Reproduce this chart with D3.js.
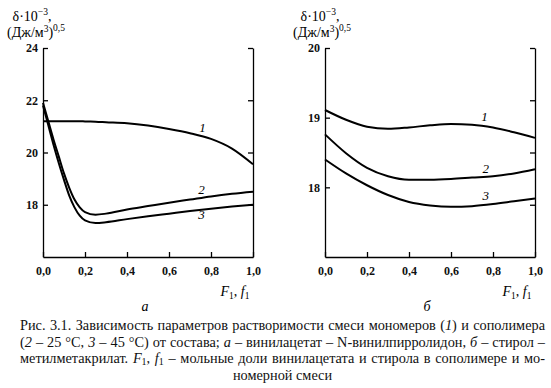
<!DOCTYPE html>
<html>
<head>
<meta charset="utf-8">
<script src="https://cdn.jsdelivr.net/npm/d3@7"></script>
<style>
  html, body { margin: 0; padding: 0; background: #fff; }
  svg { display: block; }
  svg text { font-family: "Liberation Serif", "Times New Roman", Times, serif; }
  .axis path, .axis line { stroke: #000; stroke-width: 1.3; }
  .axis text { font-size: 12px; font-weight: bold; fill: #111; }
  .curve { fill: none; stroke: #000; stroke-width: 2; }
</style>
</head>
<body>
<svg id="chart" width="551" height="388"></svg>
<script>
// доли F1, f1
const fracA = [0, 0.025, 0.05, 0.075, 0.1, 0.125, 0.15, 0.175, 0.2, 0.25, 0.3, 0.4, 0.5, 0.6, 0.7, 0.8, 0.9, 1.0]
const fracB = [0, 0.1, 0.2, 0.3, 0.4, 0.5, 0.6, 0.7, 0.8, 0.9, 1.0]

// а – винилацетат – N-винилпирролидон
const a1 = [21.2, 21.2, 21.2, 21.2, 21.2, 21.2, 21.2, 21.2, 21.19, 21.18, 21.16, 21.12, 21.03, 20.9, 20.74, 20.52, 20.15, 19.55]
const a2 = [21.9, 21.2, 20.5, 19.85, 19.2, 18.65, 18.2, 17.9, 17.72, 17.62, 17.66, 17.82, 17.95, 18.08, 18.2, 18.32, 18.42, 18.5]
const a3 = [21.8, 21.05, 20.3, 19.6, 18.95, 18.35, 17.9, 17.58, 17.4, 17.3, 17.33, 17.45, 17.56, 17.66, 17.76, 17.85, 17.93, 18.0]

// б – стирол – метилметакрилат
const b1 = [19.11, 18.97, 18.87, 18.84, 18.86, 18.89, 18.91, 18.9, 18.86, 18.79, 18.71]
const b2 = [18.76, 18.49, 18.28, 18.16, 18.11, 18.11, 18.12, 18.14, 18.16, 18.2, 18.26]
const b3 = [18.4, 18.2, 18.03, 17.89, 17.79, 17.74, 17.72, 17.73, 17.76, 17.8, 17.84]

const xTicks = [0, 0.2, 0.4, 0.6, 0.8, 1.0]
const yTicksA = [18, 20, 22, 24]
const yTicksB = [18, 19, 20]
const curveNames = ['1', '2', '3']

const svg = d3.select('#chart')
const fmt = d => d3.format('.1f')(d).replace('.', ',')
const plotTop = 48, plotBottom = 257

function drawPanel(opts) {
    const { left, right, yDomain, yTicks, xs, series, labelPos, letter, rightScale, yLabelX } = opts
    const x = d3.scaleLinear().domain([0, 1]).range([left, right])
    const y = d3.scaleLinear().domain(yDomain).range([plotBottom, plotTop])
    const g = svg.append('g')

    g.append('g').attr('class', 'axis')
        .attr('transform', `translate(0,${plotBottom})`)
        .call(d3.axisTop(x).tickValues(xTicks).tickSize(5).tickSizeOuter(0).tickFormat(''))
    g.append('g').attr('class', 'axis')
        .attr('transform', `translate(0,${plotBottom})`)
        .call(d3.axisBottom(x).tickValues(xTicks).tickSize(0).tickPadding(9).tickFormat(fmt))
        .call(s => s.select('.domain').remove())

    g.append('g').attr('class', 'axis')
        .attr('transform', `translate(${left},0)`)
        .call(d3.axisRight(y).tickValues(yTicks).tickSize(5).tickSizeOuter(0).tickFormat(''))
    g.append('g').attr('class', 'axis')
        .attr('transform', `translate(${left},0)`)
        .call(d3.axisLeft(y).tickValues(yTicks).tickSize(0).tickPadding(5).tickFormat(d3.format('d')))
        .call(s => s.select('.domain').remove())

    const yr = rightScale || y
    g.append('g').attr('class', 'axis')
        .attr('transform', `translate(${right},0)`)
        .call(d3.axisLeft(yr).tickValues(rightScale ? yTicksA : yTicks).tickSize(5).tickSizeOuter(0).tickFormat(''))

    const line = d3.line().x((d, i) => x(xs[i])).y(d => y(d)).curve(d3.curveMonotoneX)
    series.forEach((s, i) => {
        g.append('path').attr('class', 'curve').attr('d', line(s))
        g.append('text')
            .attr('x', x(labelPos[i][0])).attr('y', y(labelPos[i][1]))
            .attr('text-anchor', 'middle')
            .attr('font-style', 'italic').attr('font-size', 13)
            .text(curveNames[i])
    })

    // подпись оси Y
    const t1 = g.append('text').attr('x', yLabelX[0]).attr('y', 21).attr('text-anchor', 'middle').attr('font-size', 14)
    t1.append('tspan').text('δ·10')
    t1.append('tspan').attr('dy', -6).attr('font-size', 9.5).text('−3')
    t1.append('tspan').attr('dy', 6).text(',')
    const t2 = g.append('text').attr('x', yLabelX[1]).attr('y', 37).attr('text-anchor', 'middle').attr('font-size', 14)
    t2.append('tspan').text('(Дж/м')
    t2.append('tspan').attr('dy', -5).attr('font-size', 9.5).text('3')
    t2.append('tspan').attr('dy', 5).text(')')
    t2.append('tspan').attr('dy', -6).attr('font-size', 9.5).text('0,5')

    // подпись оси X
    const xl = g.append('text').attr('x', right - 18).attr('y', 296).attr('text-anchor', 'middle')
        .attr('font-size', 14).attr('font-style', 'italic')
    xl.append('tspan').text('F')
    xl.append('tspan').attr('font-size', 9.5).attr('font-style', 'normal').attr('dy', 3).text('1')
    xl.append('tspan').attr('dy', -3).attr('font-style', 'normal').text(', ')
    xl.append('tspan').text('f')
    xl.append('tspan').attr('font-size', 9.5).attr('font-style', 'normal').attr('dy', 3).text('1')

    g.append('text').attr('x', (left + right) / 2 - 3).attr('y', 311)
        .attr('text-anchor', 'middle').attr('font-style', 'italic').attr('font-size', 14)
        .text(letter)
    return y
}

const yA = drawPanel({
    left: 43, right: 253, yDomain: [16, 24], yTicks: yTicksA, xs: fracA,
    series: [a1, a2, a3], labelPos: [[0.76, 20.8], [0.755, 18.4], [0.755, 17.45]], letter: 'a',
    yLabelX: [32, 36]
})
drawPanel({
    left: 325, right: 535, yDomain: [17, 20], yTicks: yTicksB, xs: fracB,
    series: [b1, b2, b3], labelPos: [[0.76, 18.95], [0.765, 18.2], [0.765, 17.82]], letter: 'б',
    rightScale: yA, yLabelX: [320, 322]
})

// подпись к рисунку
const caption = [
    [['Рис. 3.1. Зависимость параметров растворимости смеси мономеров (', 0], ['1', 1], [') и сополимера', 0]],
    [['(', 0], ['2', 1], [' – 25 °C, ', 0], ['3', 1], [' – 45 °C) от состава; ', 0], ['a', 1], [' – винилацетат – N-винилпирролидон, ', 0], ['б', 1], [' – стирол –', 0]],
    [['метилметакрилат. ', 0], ['F', 1], ['1', 2], [', ', 0], ['f', 1], ['1', 2], [' – мольные доли винилацетата и стирола в сополимере и мо-', 0]],
    [['номерной смеси', 0]]
]
const capLeft = 20, capRight = 545
caption.forEach((parts, i) => {
    const last = i === caption.length - 1
    const t = svg.append('text').attr('y', 330 + i * 16.6).attr('font-size', 14.3).attr('fill', '#111')
    parts.forEach(([s, k], j) => {
        const ts = t.append('tspan').text(s)
        if (k === 1) ts.attr('font-style', 'italic')
        if (k === 2) ts.attr('font-size', 10).attr('dy', 2)
        const prev = parts[j - 1]
        if (prev && prev[1] === 2 && k !== 2) ts.attr('dy', -2)
    })
    const w = t.node().getComputedTextLength()
    if (last) {
        t.attr('x', (capLeft + capRight) / 2 - w / 2)
    } else {
        const spaces = parts.map(p => p[0]).join('').split(' ').length - 1
        t.attr('x', capLeft).attr('word-spacing', Math.max(0, (capRight - capLeft - w) / spaces))
    }
})
</script>
</body>
</html>
